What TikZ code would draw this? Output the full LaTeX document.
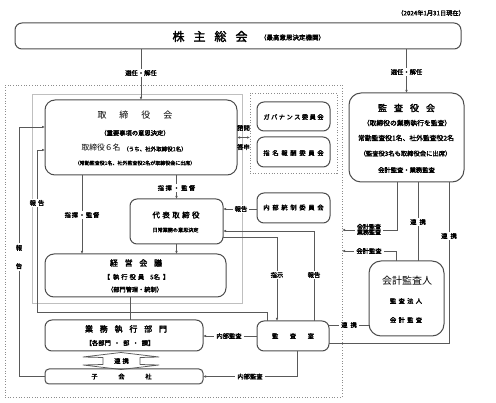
\documentclass[tikz,border=0pt]{standalone}
\usepackage{fontspec}
\newfontfamily\jp[AutoFakeBold=2.2]{Noto Sans CJK JP}
\usetikzlibrary{arrows.meta,calc}
\newcommand\jfs[1]{\fontsize{#1}{#1}\selectfont}
\newcommand\spc[2]{\def\spcgap{#1}\spcloop#2\relax}
\def\spcloop#1#2{#1\ifx\relax#2\else\hskip\spcgap\relax\expandafter\spcloop\expandafter#2\fi}
\begin{document}
\begin{tikzpicture}[x=1pt,y=-1pt,
  box/.style={draw=black!70, line width=1pt, rounded corners=7pt, inner sep=0pt, outer sep=0pt},
  ln/.style={draw=black!65, line width=0.75pt},
  arr/.style={ln, -{Latex[length=3pt,width=2.6pt]}},
  darr/.style={ln, {Latex[length=3pt,width=2.6pt]}-{Latex[length=3pt,width=2.6pt]}},
  t/.style={inner sep=0pt, font=\jp\bfseries\jfs{6.3}, text=black},
  lbl/.style={t, fill=white, inner xsep=2pt, inner ysep=1.5pt},
  frame/.style={inner sep=0pt, outer sep=0pt},
]
\useasboundingbox (0,0) rectangle (496,403);

% frames
\node[frame, draw=black!45, dotted, line width=0.7pt, minimum width=337pt, minimum height=312pt] (outer) at (173.5,241) {};
\node[frame, draw=black!25, line width=0.6pt, minimum width=210pt, minimum height=209pt] (inner) at (137,198.5) {};
\node[frame, draw=black!45, dotted, line width=0.7pt, minimum width=87pt, minimum height=80pt] (cbox) at (293.5,133) {};

% date
\node[t, anchor=east, font=\jp\bfseries\jfs{6.2}] (date) at (465,13) {（2024年1月31日現在）};

% boxes
\node[box, minimum width=446pt, minimum height=26pt] (sh) at (238,36) {};
\node[box, rounded corners=10pt, minimum width=192pt, minimum height=75pt] (tori) at (141,137.5) {};
\node[box, minimum width=73pt, minimum height=29pt] (gov) at (293.5,116.5) {};
\node[box, minimum width=73pt, minimum height=30pt] (nom) at (293.5,152) {};
\node[box, rounded corners=12pt, minimum width=115pt, minimum height=89pt] (kyk) at (406.5,137.5) {};
\node[box, minimum width=93pt, minimum height=45pt] (daihyo) at (176.5,221.5) {};
\node[box, minimum width=73pt, minimum height=30pt] (naibu) at (293.5,208) {};
\node[box, rounded corners=9pt, minimum width=181pt, minimum height=43pt] (keiei) at (135.5,275.5) {};
\node[box, minimum width=158pt, minimum height=31pt] (gyomu) at (124,335.5) {};
\node[box, rounded corners=4pt, minimum width=158pt, minimum height=15pt] (kg) at (124,376.5) {};
\node[box, minimum width=72pt, minimum height=30pt] (ks) at (293,336) {};
\node[box, rounded corners=12pt, minimum width=75pt, minimum height=75pt] (kk) at (406.5,298.5) {};

% texts in boxes
\node[t, font=\jp\bfseries\jfs{12}] (shT) at (210,36.5) {\spc{9pt}{株主総会}};
\node[t, font=\jp\bfseries\jfs{6.5}] (shS) at (292.5,37.5) {（最高意思決定機関）};

\node[t, font=\jp\jfs{9}] (toriT) at (135,115) {\spc{13pt}{取締役会}};
\node[t] (toriS) at (135,133) {（重要事項の意思決定）};
\node[t, font=\jp\jfs{7.8}] (toriN) at (101,148) {取締役６名};
\node[t, font=\jp\bfseries\jfs{5.5}] (toriN2) at (155,149) {（うち、社外取締役1名）};
\node[t, font=\jp\bfseries\jfs{5}] (toriM) at (135,163) {（常勤監査役1名、社外監査役2名が取締役会に出席）};

\node[t] (govT) at (293.5,117) {\spc{1.4pt}{ガバナンス委員会}};
\node[t] (nomT) at (293.5,153) {\spc{2.7pt}{指名報酬委員会}};
\node[t] (naibuT) at (293.5,207.5) {\spc{2.7pt}{内部統制委員会}};

\node[t, font=\jp\bfseries\jfs{9}] (kykT) at (406.5,108) {\spc{7pt}{監査役会}};
\node[t, font=\jp\bfseries\jfs{6.8}] (kykS) at (407,123) {（取締役の業務執行を監査）};
\node[t, font=\jp\bfseries\jfs{6.8}] (kykN) at (406,138) {常勤監査役1名、社外監査役2名};
\node[t] (kykM) at (405.5,153.5) {（監査役3名も取締役会に出席）};
\node[t] (kykA) at (406.5,170) {会計監査・業務監査};

\node[t, font=\jp\bfseries\jfs{7.5}] (daihyoT) at (176,215) {\spc{2.4pt}{代表取締役}};
\node[t, font=\jp\bfseries\jfs{5.1}] (daihyoS) at (175.5,230) {日常業務の意思決定};

\node[t, font=\jp\bfseries\jfs{8}] (keieiT) at (136,263) {\spc{6.7pt}{経営会議}};
\node[t] (keieiS) at (136.5,277) {【\hskip3pt執\hskip2pt行\hskip2pt役\hskip2pt員\hskip6pt5名\hskip3pt】};
\node[t, font=\jp\bfseries\jfs{6.2}] (keieiM) at (135,289.5) {（部門管理・統制）};

\node[t, font=\jp\bfseries\jfs{8}] (gyomuT) at (126,329) {\spc{6.8pt}{業務執行部門}};
\node[t] (gyomuS) at (120,343) {【各部門\hskip3pt・\hskip3pt部\hskip3pt・\hskip3pt課】};

\node[t] (kgT) at (121.5,376.5) {\spc{20.7pt}{子会社}};
\node[t] (ksT) at (293,336) {\spc{11.5pt}{監査室}};

\node[t, font=\jp\jfs{10}] (kkT) at (407,281) {会計監査人};
\node[t] (kkS) at (406,301) {\spc{2.3pt}{監査法人}};
\node[t] (kkA) at (406,320) {\spc{2.3pt}{会計監査}};

% helper coordinates
\coordinate (x82) at (82,0);
\coordinate (x130) at (130,0);
\coordinate (y209) at (0,209);
\coordinate (d1) at (277,237);
\coordinate (e1) at (314,231);
\coordinate (r1) at (267,312);
\coordinate (r2) at (37,312);
\coordinate (r3) at (37,150);
\coordinate (s1) at (19,376.5);
\coordinate (s2) at (19,127);
\coordinate (f1) at (297,376.5);
\coordinate (g1) at (0,325);
\coordinate (h1) at (449,343);
\coordinate (h2) at (418,0);
\coordinate (i1) at (397,230);
\coordinate (j1) at (396,251);

% connectors
\draw[arr] (sh.south -| tori.north) -- (tori.north);
\node[lbl] (l1) at (141,73) {選任・解任};
\draw[arr] (sh.south -| kyk.north) -- (kyk.north);
\node[lbl] (l2) at (406.5,72) {選任・解任};

\draw[darr] (tori.east) -- (cbox.west |- tori.east);
\node[t] (l3) at (243.5,128) {諮問};
\node[t] (l4) at (243.5,147) {答申};

\draw[arr] (tori.south -| daihyo.north) -- (daihyo.north);
\node[lbl] (l5) at (176.5,188) {\spc{1.5pt}{指揮・監督}};

\draw[arr] (tori.south -| x82) -- (keiei.north -| x82);
\node[lbl] (l6) at (82,215) {\spc{0.8pt}{指揮・監督}};

\draw[arr] (daihyo.south) -- (keiei.north -| daihyo.south);
\draw[ln] (keiei.south -| x130) -- (gyomu.north -| x130);

\draw[arr] (naibu.west |- y209) -- (daihyo.east |- y209);
\node[lbl] (l7) at (241,209) {報告};

\draw[arr] (daihyo.east |- d1) -- (d1) -- (ks.north -| d1);
\node[lbl] (l8) at (277,275) {指示};
\draw[arr] (ks.north -| e1) -- (e1) -- (daihyo.east |- e1);
\node[lbl] (l9) at (314,275) {報告};

\draw[arr] (ks.north -| r1) -- (r1) -- (r2) -- (r3) -- (tori.west |- r3);
\node[lbl] (l10) at (37,203) {\spc{2pt}{報告}};

\draw[arr] (kg.west) -- (s1) -- (s2) -- (tori.west |- s2);
\node[lbl, align=center] (l11) at (19,257) {報\\[12pt]告};

\draw[arr] (ks.west) -- (gyomu.east |- ks.west);
\node[lbl] (l12) at (229,336) {内部監査};
\draw[arr] (ks.south -| f1) -- (f1) -- (kg.east |- f1);
\node[lbl] (l13) at (250,376.5) {内部監査};

% renkei arrow shape between gyomu and kg
\draw[ln, line join=round] (83,357) -- (121,352.5) -- (159,357) -- (140,357.5) -- (140,364.5) -- (159,365) -- (121,369.5) -- (83,365) -- (103,364.5) -- (103,357.5) -- cycle;
\node[t] (l14) at (121.5,361) {\spc{2pt}{連携}};

\draw[ln] (ks.east |- g1) -- (kk.west |- g1);
\node[lbl] (l15) at (349,325) {\spc{3pt}{連携}};
\draw[ln] (ks.east |- h1) -- (h1) -- (kyk.south -| h1);
\node[lbl] (l16) at (449,236) {\spc{3pt}{連携}};
\draw[ln] (kyk.south -| h2) -- (kk.north -| h2);
\node[lbl] (l17) at (418,222) {\spc{3pt}{連携}};

\draw[arr] (kyk.south -| i1) -- (i1) -- (outer.east |- i1);
\node[lbl, align=center, font=\jp\bfseries\jfs{6}] (l18) at (369,229.5) {会計監査\\[-0.5pt]業務監査};
\draw[arr] (kk.north -| j1) -- (j1) -- (outer.east |- j1);
\node[lbl] (l19) at (369,251) {会計監査};
\end{tikzpicture}
\end{document}
